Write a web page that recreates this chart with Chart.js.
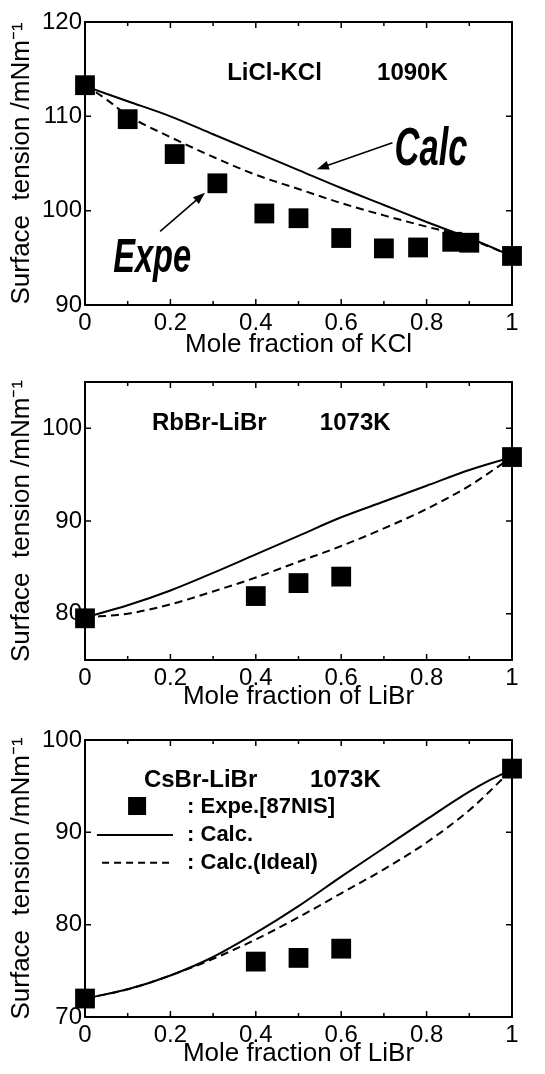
<!DOCTYPE html>
<html>
<head>
<meta charset="utf-8">
<title>Surface tension of binary molten salts</title>
<script src="https://cdn.jsdelivr.net/npm/chart.js@4.4.1/dist/chart.umd.min.js"></script>
<style>
  html, body { margin: 0; padding: 0; background: #fff; }
  canvas { position: absolute; left: 0; }
</style>
</head>
<body>
<canvas id="kcl" width="545" height="356" style="top:0"></canvas>
<canvas id="rbbr" width="545" height="356" style="top:356px"></canvas>
<canvas id="csbr" width="545" height="356" style="top:712px"></canvas>
<script>
// x axis ticks, shared by all three panels
const xTicks = [0, 0.2, 0.4, 0.6, 0.8, 1];
const xMinorTicks = [0.1, 0.3, 0.5, 0.7, 0.9];

// LiCl-KCl 1090K
const kclTicks = [90, 100, 110, 120];
const kclExpeX = [0, 0.1, 0.21, 0.31, 0.42, 0.5, 0.6, 0.7, 0.78, 0.86, 0.9, 1];
const kclExpeY = [113.3, 109.7, 106.0, 102.9, 99.7, 99.2, 97.1, 96.0, 96.1, 96.7, 96.6, 95.2];
const kclCalcX = [0, 0.1, 0.2, 0.3, 0.4, 0.5, 0.6, 0.7, 0.8, 0.87, 0.9, 1];
const kclCalcY = [113.2, 111.6, 110.0, 108.1, 106.2, 104.3, 102.4, 100.6, 98.8, 97.6, 97.1, 95.2];
const kclIdealX = [0, 0.05, 0.1, 0.2, 0.3, 0.4, 0.5, 0.6, 0.7, 0.8, 0.87, 1];
const kclIdealY = [113.3, 111.8, 110.1, 107.8, 105.7, 103.8, 102.3, 100.8, 99.5, 98.3, 97.5, 95.2];

// RbBr-LiBr 1073K
const rbTicks = [80, 90, 100];
const rbExpeX = [0, 0.4, 0.5, 0.6, 1];
const rbExpeY = [79.5, 81.9, 83.3, 84.0, 96.9];
const rbCalcX = [0, 0.1, 0.2, 0.3, 0.4, 0.5, 0.6, 0.7, 0.8, 0.9, 1];
const rbCalcY = [79.6, 80.9, 82.5, 84.4, 86.4, 88.4, 90.4, 92.1, 93.8, 95.5, 96.9];
const rbIdealX = [0, 0.1, 0.2, 0.3, 0.4, 0.5, 0.6, 0.7, 0.8, 0.9, 1];
const rbIdealY = [79.6, 80.0, 81.0, 82.4, 83.9, 85.6, 87.3, 89.2, 91.3, 93.8, 96.9];

// CsBr-LiBr 1073K
const csTicks = [70, 80, 90, 100];
const csExpeX = [0, 0.4, 0.5, 0.6, 1];
const csExpeY = [72.0, 76.0, 76.4, 77.4, 96.9];
const csCalcX = [0, 0.1, 0.2, 0.3, 0.4, 0.5, 0.6, 0.7, 0.8, 0.9, 0.95, 1];
const csCalcY = [72.0, 73.0, 74.5, 76.5, 79.1, 82.0, 85.2, 88.3, 91.4, 94.4, 95.7, 96.8];
const csIdealX = [0, 0.1, 0.2, 0.3, 0.4, 0.5, 0.6, 0.7, 0.8, 0.9, 1];
const csIdealY = [72.0, 73.0, 74.5, 76.3, 78.4, 80.8, 83.4, 86.0, 88.9, 92.4, 96.8];

const FONT = "'Liberation Sans', Arial, Helvetica, sans-serif";
const yTitle = "Surface  tension /mNm\u207B\u00B9";

function pts(xs, ys) {
  return xs.map((x, i) => ({ x: x, y: ys[i] }));
}

// box round the plot area, with inward tick marks on all four sides
const frame = {
  id: "frame",
  beforeDatasetsDraw(chart) {
    const { ctx, chartArea: a, scales: { x, y } } = chart;
    ctx.save();
    ctx.strokeStyle = "#000";
    ctx.lineWidth = 2;
    ctx.strokeRect(a.left, a.top, a.right - a.left, a.bottom - a.top);
    ctx.lineWidth = 1.5;
    ctx.beginPath();
    xTicks.concat(xMinorTicks).forEach(v => {
      const len = xTicks.includes(v) ? 6 : 4;
      const px = x.getPixelForValue(v);
      ctx.moveTo(px, a.bottom); ctx.lineTo(px, a.bottom - len);
      ctx.moveTo(px, a.top); ctx.lineTo(px, a.top + len);
    });
    y.ticks.forEach(t => {
      const py = y.getPixelForValue(t.value);
      ctx.moveTo(a.left, py); ctx.lineTo(a.left + 6, py);
      ctx.moveTo(a.right, py); ctx.lineTo(a.right - 6, py);
    });
    ctx.stroke();
    ctx.restore();
  }
};

// labels, arrows and the hand-made key, placed in data units
function notes(items) {
  return {
    id: "notes",
    afterDatasetsDraw(chart) {
      const { ctx, scales: { x, y } } = chart;
      ctx.save();
      ctx.fillStyle = "#000";
      ctx.strokeStyle = "#000";
      items.forEach(it => {
        const px = x.getPixelForValue(it.x), py = y.getPixelForValue(it.y);
        if (it.text) {
          ctx.save();
          ctx.font = it.font;
          ctx.textBaseline = "alphabetic";
          ctx.translate(px, py);
          ctx.scale(it.squeeze || 1, 1);
          ctx.fillText(it.text, 0, 0);
          ctx.restore();
        } else if (it.arrowX !== undefined) {
          const qx = x.getPixelForValue(it.arrowX), qy = y.getPixelForValue(it.arrowY);
          const ang = Math.atan2(qy - py, qx - px);
          ctx.lineWidth = 1.6;
          ctx.beginPath();
          ctx.moveTo(px, py);
          ctx.lineTo(qx - 8 * Math.cos(ang), qy - 8 * Math.sin(ang));
          ctx.stroke();
          ctx.beginPath();
          ctx.moveTo(qx, qy);
          ctx.lineTo(qx - 12 * Math.cos(ang) + 4.5 * Math.sin(ang), qy - 12 * Math.sin(ang) - 4.5 * Math.cos(ang));
          ctx.lineTo(qx - 12 * Math.cos(ang) - 4.5 * Math.sin(ang), qy - 12 * Math.sin(ang) + 4.5 * Math.cos(ang));
          ctx.closePath();
          ctx.fill();
        } else if (it.square) {
          ctx.fillRect(px - it.square / 2, py - it.square / 2, it.square, it.square);
        } else if (it.lineX !== undefined) {
          ctx.lineWidth = 2;
          ctx.setLineDash(it.dash || []);
          ctx.beginPath();
          ctx.moveTo(px, py);
          ctx.lineTo(x.getPixelForValue(it.lineX), py);
          ctx.stroke();
          ctx.setLineDash([]);
        }
      });
      ctx.restore();
    }
  };
}

function panel(id, p) {
  return new Chart(document.getElementById(id), {
    type: "line",
    data: {
      datasets: [
        {
          label: "Expe",
          data: pts(p.expeX, p.expeY),
          showLine: false,
          pointStyle: "rect",
          pointRadius: 14,
          pointBorderWidth: 0,
          pointBackgroundColor: "#000",
          borderColor: "#000",
          clip: false,
          order: 0
        },
        {
          label: "Calc",
          data: pts(p.calcX, p.calcY),
          borderColor: "#000",
          borderWidth: 2,
          pointRadius: 0,
          cubicInterpolationMode: "monotone",
          clip: false,
          order: 1
        },
        {
          label: "Calc (Ideal)",
          data: pts(p.idealX, p.idealY),
          borderColor: "#000",
          borderWidth: 2,
          borderDash: [8, 5],
          pointRadius: 0,
          cubicInterpolationMode: "monotone",
          clip: false,
          order: 2
        }
      ]
    },
    options: {
      responsive: false,
      animation: false,
      events: [],
      layout: { padding: { top: p.top, right: 33, bottom: 0, left: 0 } },
      plugins: { legend: { display: false }, tooltip: { enabled: false } },
      scales: {
        x: {
          type: "linear",
          min: 0,
          max: 1,
          grid: { display: false, drawTicks: false },
          border: { display: false },
          afterBuildTicks: s => { s.ticks = xTicks.map(v => ({ value: v })); },
          afterFit: s => { s.height = p.xh; },
          ticks: {
            font: { family: FONT, size: 24 },
            color: "#000",
            padding: 4,
            maxRotation: 0,
            autoSkip: false,
            callback: v => String(v)
          },
          title: {
            display: true,
            text: p.xTitle,
            font: { family: FONT, size: 26 },
            color: "#000",
            padding: { top: 0, bottom: p.titlePad }
          }
        },
        y: {
          min: p.ymin,
          max: p.ymax,
          grid: { display: false, drawTicks: false },
          border: { display: false },
          afterBuildTicks: s => { s.ticks = p.yTicks.map(v => ({ value: v })); },
          afterFit: s => { s.width = 85; },
          ticks: {
            font: { family: FONT, size: 24 },
            color: "#000",
            padding: 3,
            callback: v => String(v)
          },
          title: {
            display: true,
            text: yTitle,
            font: { family: FONT, size: 26 },
            color: "#000",
            padding: { top: 6, bottom: 0 }
          }
        }
      }
    },
    plugins: [frame, notes(p.notes)]
  });
}

const boldTitle = "bold 24px " + FONT;
const keyFont = "bold 22px " + FONT;
const bigItalic = size => "bold italic " + size + "px " + FONT;

panel("kcl", {
  expeX: kclExpeX, expeY: kclExpeY,
  calcX: kclCalcX, calcY: kclCalcY,
  idealX: kclIdealX, idealY: kclIdealY,
  yTicks: kclTicks, ymin: 90, ymax: 120,
  xTitle: "Mole fraction of KCl",
  top: 22, xh: 51, titlePad: -4,
  notes: [
    { x: 0.333, y: 113.85, text: "LiCl-KCl", font: boldTitle },
    { x: 0.684, y: 113.85, text: "1090K", font: boldTitle },
    { x: 0.725, y: 104.8, text: "Calc", font: bigItalic(54), squeeze: 0.64 },
    { x: 0.72, y: 107.2, arrowX: 0.543, arrowY: 104.4 },
    { x: 0.066, y: 93.5, text: "Expe", font: bigItalic(48), squeeze: 0.68 },
    { x: 0.176, y: 97.8, arrowX: 0.281, arrowY: 101.9 }
  ]
});

panel("rbbr", {
  expeX: rbExpeX, expeY: rbExpeY,
  calcX: rbCalcX, calcY: rbCalcY,
  idealX: rbIdealX, idealY: rbIdealY,
  yTicks: rbTicks, ymin: 75, ymax: 105,
  xTitle: "Mole fraction of LiBr",
  top: 26, xh: 52, titlePad: 0,
  notes: [
    { x: 0.157, y: 99.8, text: "RbBr-LiBr", font: boldTitle },
    { x: 0.55, y: 99.8, text: "1073K", font: boldTitle }
  ]
});

panel("csbr", {
  expeX: csExpeX, expeY: csExpeY,
  calcX: csCalcX, calcY: csCalcY,
  idealX: csIdealX, idealY: csIdealY,
  yTicks: csTicks, ymin: 70, ymax: 100,
  xTitle: "Mole fraction of LiBr",
  top: 28, xh: 51, titlePad: -1,
  notes: [
    { x: 0.138, y: 94.9, text: "CsBr-LiBr", font: boldTitle },
    { x: 0.527, y: 94.9, text: "1073K", font: boldTitle },
    { x: 0.122, y: 92.85, square: 18 },
    { x: 0.239, y: 92.09, text: ": Expe.[87NIS]", font: keyFont },
    { x: 0.028, y: 89.7, lineX: 0.206 },
    { x: 0.239, y: 89.06, text: ": Calc.", font: keyFont },
    { x: 0.04, y: 86.7, lineX: 0.206, dash: [7, 5] },
    { x: 0.239, y: 86.03, text: ": Calc.(Ideal)", font: keyFont }
  ]
});
</script>
</body>
</html>
